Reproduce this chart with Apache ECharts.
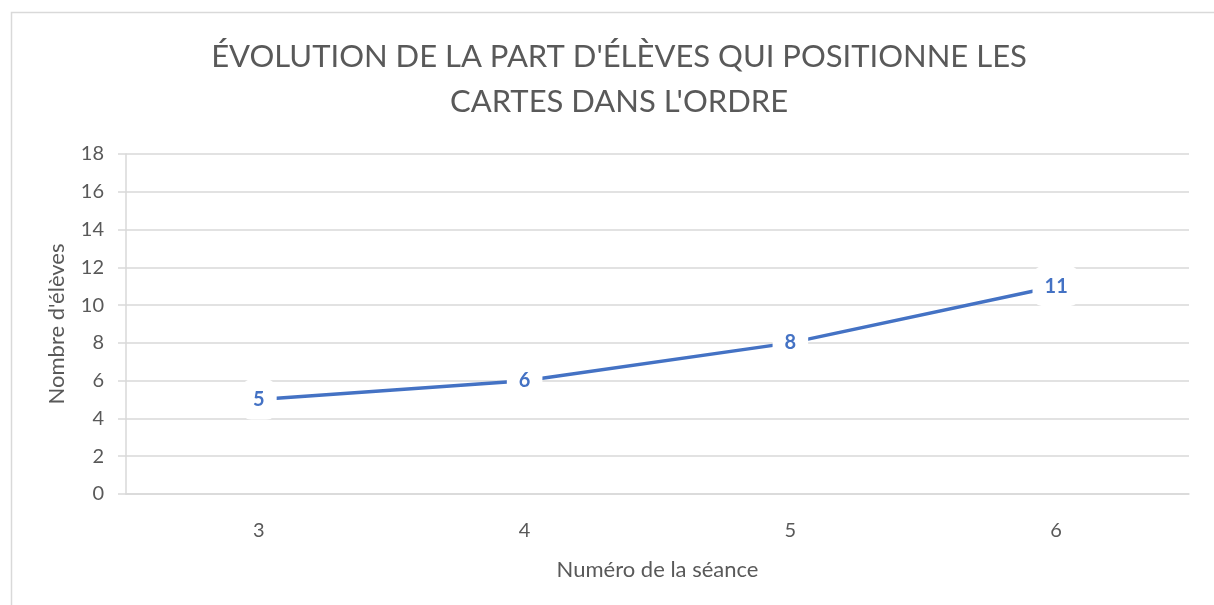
<!DOCTYPE html>
<html>
<head>
<meta charset="utf-8">
<script src="https://cdn.jsdelivr.net/npm/echarts@6/dist/echarts.min.js"></script>
<style>html,body{margin:0;padding:0;background:#fff}#c{width:1214px;height:605px}</style>
</head>
<body>
<div id="c"></div>
<script>
const titleText = "ÉVOLUTION DE LA PART D'ÉLÈVES QUI POSITIONNE LES\nCARTES DANS L'ORDRE";
const categories = ['3', '4', '5', '6'];
const values = [5, 6, 8, 11];
const yAxisName = "Nombre d'élèves";
const xAxisName = "Numéro de la séance";

const chart = echarts.init(document.getElementById('c'), null, {renderer: 'canvas'});
chart.setOption({
  backgroundColor: '#fff',
  animation: false,
  graphic: [{
    type: 'rect', left: 9, top: 10,
    shape: {width: 1300, height: 700},
    style: {fill: 'none', stroke: '#d9d9d9', lineWidth: 1.5},
    silent: true
  }],
  title: {
    text: titleText,
    left: 614, textAlign: 'center', top: 29,
    textStyle: {fontFamily: 'Lato', fontWeight: 'normal', fontSize: 31, color: '#595959', lineHeight: 45}
  },
  grid: {left: 126, right: 25, top: 154, bottom: 111, containLabel: false},
  xAxis: {
    type: 'category', data: categories, boundaryGap: true,
    name: xAxisName, nameLocation: 'middle', nameGap: 65,
    nameTextStyle: {fontFamily: 'Lato', fontSize: 22, color: '#595959'},
    axisLine: {lineStyle: {color: '#d9d9d9', width: 1.5}},
    axisTick: {show: false},
    axisLabel: {fontFamily: 'Lato', fontSize: 20, color: '#595959', margin: 27}
  },
  yAxis: {
    type: 'value', min: 0, max: 18, interval: 2,
    name: yAxisName, nameLocation: 'middle', nameGap: 58, nameRotate: 90,
    nameTextStyle: {fontFamily: 'Lato', fontSize: 22, color: '#595959'},
    axisLine: {show: true, lineStyle: {color: '#d9d9d9', width: 1.5}},
    axisTick: {show: true, length: 8, lineStyle: {color: '#d9d9d9', width: 1.5}},
    splitLine: {lineStyle: {color: '#d9d9d9', width: 1.5}},
    axisLabel: {fontFamily: 'Lato', fontSize: 20, color: '#595959', margin: 22}
  },
  series: [{
    type: 'line', data: values,
    symbol: 'circle', symbolSize: 0,
    lineStyle: {color: '#4472C4', width: 3.5},
    itemStyle: {color: '#4472C4'},
    label: {
      show: true, position: 'inside',
      fontFamily: 'Lato', fontWeight: 'bold', fontSize: 20, color: '#4472C4',
      backgroundColor: '#fff', padding: [10, 12], borderRadius: 10
    }
  }]
});
</script>
</body>
</html>
